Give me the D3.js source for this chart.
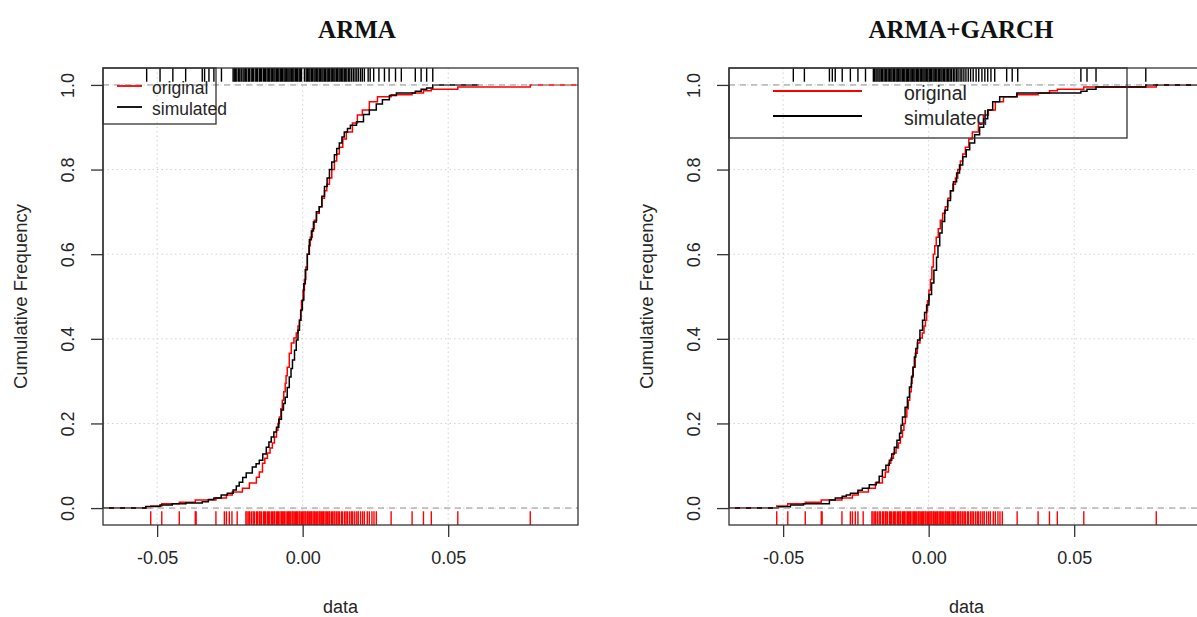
<!DOCTYPE html>
<html><head><meta charset="utf-8">
<script src="https://cdn.jsdelivr.net/npm/d3@7"></script>
<style>body{margin:0;background:#fff}svg{display:block}</style>
</head><body><svg id="c" width="1197" height="617"></svg>
<script>
// ---------- data ----------
const panelTitles = ["ARMA", "ARMA+GARCH"];
const xTickValues = [-0.05, 0, 0.05];
const xTickLabels = ["-0.05", "0.00", "0.05"];
const yTickValues = [0, 0.2, 0.4, 0.6, 0.8, 1.0];
const yTickLabels = ["0.0", "0.2", "0.4", "0.6", "0.8", "1.0"];
const legendLabels = ["original", "simulated"];
const xLabel = "data";
const yLabel = "Cumulative Frequency";

// ECDF of the original returns (same in both panels)
const originalKnots = [-0.0522,-0.0484,-0.0424,-0.0369,-0.0298,-0.0262,-0.0242,-0.0207,-0.0183,-0.0159,-0.0149,-0.0138,-0.0130,-0.0121,-0.0112,-0.0104,-0.0097,-0.0090,-0.0085,-0.0080,-0.0075,-0.0070,-0.0065,-0.0060,-0.0057,-0.0053,-0.0046,-0.0039,-0.0030,-0.0022,-0.0016,-0.0011,-0.0007,-0.0004,0.0001,0.0006,0.0011,0.0016,0.0021,0.0026,0.0033,0.0040,0.0048,0.0057,0.0066,0.0075,0.0083,0.0092,0.0100,0.0109,0.0117,0.0126,0.0138,0.0150,0.0171,0.0188,0.0205,0.0229,0.0257,0.0304,0.0376,0.0415,0.0442,0.0533,0.0782];
const originalFreq  = [0.005,0.010,0.014,0.019,0.024,0.031,0.038,0.047,0.059,0.073,0.085,0.106,0.118,0.130,0.142,0.154,0.168,0.184,0.200,0.215,0.235,0.255,0.275,0.295,0.313,0.333,0.366,0.390,0.402,0.414,0.430,0.444,0.467,0.490,0.515,0.540,0.570,0.600,0.620,0.640,0.660,0.680,0.697,0.712,0.732,0.750,0.765,0.780,0.800,0.820,0.837,0.853,0.872,0.889,0.910,0.929,0.941,0.960,0.972,0.977,0.981,0.986,0.990,0.995,1.000];

// ECDF of the ARMA simulation
const simArmaKnots = [-0.0539,-0.0490,-0.0448,-0.0401,-0.0345,-0.0324,-0.0305,-0.0280,-0.0259,-0.0239,-0.0228,-0.0218,-0.0206,-0.0194,-0.0173,-0.0160,-0.0149,-0.0137,-0.0125,-0.0116,-0.0108,-0.0099,-0.0090,-0.0082,-0.0073,-0.0066,-0.0060,-0.0053,-0.0046,-0.0040,-0.0035,-0.0028,-0.0022,-0.0016,-0.0011,-0.0006,-0.0001,0.0004,0.0009,0.0016,0.0023,0.0030,0.0037,0.0047,0.0057,0.0066,0.0075,0.0084,0.0092,0.0100,0.0109,0.0117,0.0126,0.0135,0.0143,0.0154,0.0164,0.0185,0.0209,0.0229,0.0253,0.0274,0.0298,0.0322,0.0387,0.0407,0.0426,0.0447];
const simArmaFreq  = [0.004,0.007,0.010,0.012,0.015,0.020,0.024,0.031,0.035,0.043,0.052,0.061,0.072,0.083,0.097,0.105,0.113,0.128,0.144,0.156,0.168,0.180,0.191,0.210,0.232,0.247,0.262,0.285,0.310,0.330,0.350,0.373,0.397,0.420,0.444,0.468,0.492,0.530,0.563,0.600,0.634,0.655,0.676,0.700,0.712,0.737,0.760,0.780,0.800,0.818,0.835,0.850,0.863,0.877,0.889,0.897,0.905,0.913,0.930,0.941,0.955,0.965,0.975,0.981,0.985,0.990,0.993,1.000];

// ECDF of the ARMA+GARCH simulation
const simGarchKnots = [-0.0517,-0.0475,-0.0430,-0.0341,-0.0321,-0.0297,-0.0283,-0.0269,-0.0243,-0.0228,-0.0204,-0.0180,-0.0170,-0.0159,-0.0147,-0.0135,-0.0127,-0.0118,-0.0109,-0.0100,-0.0095,-0.0090,-0.0081,-0.0073,-0.0066,-0.0059,-0.0054,-0.0049,-0.0044,-0.0038,-0.0030,-0.0021,-0.0014,-0.0007,0.0001,0.0010,0.0018,0.0027,0.0032,0.0038,0.0046,0.0055,0.0065,0.0075,0.0085,0.0096,0.0106,0.0117,0.0129,0.0141,0.0158,0.0175,0.0189,0.0203,0.0220,0.0244,0.0303,0.0523,0.0544,0.0575,0.0746];
const simGarchFreq  = [0.003,0.007,0.010,0.019,0.024,0.028,0.031,0.035,0.042,0.047,0.055,0.061,0.075,0.090,0.101,0.113,0.128,0.144,0.160,0.177,0.196,0.215,0.238,0.262,0.286,0.310,0.333,0.357,0.377,0.397,0.420,0.444,0.462,0.480,0.505,0.532,0.562,0.593,0.620,0.650,0.677,0.704,0.727,0.750,0.771,0.792,0.811,0.830,0.847,0.863,0.882,0.900,0.920,0.941,0.960,0.972,0.981,0.985,0.990,0.995,1.000];

// rug positions (data values)
const originalRug = [-0.0522,-0.0484,-0.0424,-0.0369,-0.0366,-0.0298,-0.0269,-0.0262,-0.0252,-0.0243,-0.0225,
  -0.0195,-0.0191,-0.0185,-0.0182,-0.0176,-0.0170,-0.0166,-0.0159,-0.0155,-0.0149,-0.0146,-0.0141,-0.0134,-0.0131,-0.0127,-0.0121,-0.0117,-0.0113,-0.0107,-0.0104,-0.0099,-0.0096,-0.0090,-0.0086,-0.0083,-0.0078,-0.0073,-0.0070,-0.0065,-0.0062,-0.0057,-0.0052,-0.0049,-0.0046,-0.0041,-0.0036,-0.0033,-0.0029,-0.0024,-0.0021,-0.0017,-0.0012,-0.0009,-0.0004,0.0000,0.0004,0.0008,0.0011,0.0016,0.0019,0.0024,0.0028,0.0031,0.0036,0.0040,0.0043,0.0048,0.0052,0.0057,0.0060,0.0064,0.0069,0.0072,0.0077,0.0081,0.0085,0.0090,0.0093,0.0099,0.0103,0.0108,0.0111,0.0117,0.0122,0.0126,0.0133,0.0137,0.0144,0.0149,0.0154,0.0161,0.0167,0.0172,0.0179,0.0186,0.0191,0.0199,0.0206,0.0212,0.0222,0.0229,0.0238,0.0245,0.0253,
  0.0304,0.0376,0.0415,0.0442,0.0533,0.0782];
const simArmaRug = [-0.0536,-0.0490,-0.0446,-0.0402,-0.0345,-0.0337,-0.0322,-0.0305,-0.0279,
  -0.0239,-0.0235,-0.0230,-0.0226,-0.0220,-0.0216,-0.0211,-0.0205,-0.0201,-0.0196,-0.0192,-0.0186,-0.0183,-0.0177,-0.0173,-0.0169,-0.0163,-0.0158,-0.0155,-0.0149,-0.0145,-0.0141,-0.0135,-0.0131,-0.0127,-0.0122,-0.0117,-0.0113,-0.0108,-0.0104,-0.0099,-0.0095,-0.0090,-0.0087,-0.0082,-0.0077,-0.0073,-0.0069,-0.0064,-0.0060,-0.0056,-0.0051,-0.0047,-0.0043,-0.0038,-0.0034,-0.0030,-0.0025,-0.0021,-0.0017,-0.0012,-0.0008,-0.0004,
  0.0006,0.0012,0.0016,0.0021,0.0025,0.0030,0.0034,0.0039,0.0043,0.0048,0.0052,0.0057,0.0061,0.0066,0.0070,0.0075,0.0079,0.0084,0.0088,0.0093,0.0098,0.0102,0.0107,0.0111,0.0116,0.0120,0.0125,0.0129,0.0134,0.0138,0.0143,0.0148,0.0152,0.0158,0.0162,0.0168,0.0174,0.0180,0.0186,0.0192,0.0199,0.0205,0.0212,0.0225,0.0232,0.0244,0.0262,0.0281,0.0297,0.0319,0.0339,
  0.0387,0.0407,0.0426,0.0447];
const simGarchRug = [-0.0465,-0.0427,-0.0341,-0.0331,-0.0321,-0.0297,-0.0269,-0.0243,-0.0217,
  -0.0190,-0.0186,-0.0181,-0.0177,-0.0171,-0.0167,-0.0162,-0.0158,-0.0153,-0.0148,-0.0144,-0.0139,-0.0134,-0.0130,-0.0126,-0.0121,-0.0117,-0.0112,-0.0108,-0.0104,-0.0099,-0.0095,-0.0090,-0.0086,-0.0082,-0.0077,-0.0073,-0.0069,-0.0064,-0.0060,-0.0055,-0.0051,-0.0047,-0.0042,-0.0038,-0.0034,-0.0029,-0.0025,-0.0020,-0.0016,-0.0012,-0.0007,-0.0003,0.0002,0.0006,0.0010,0.0015,0.0019,0.0024,0.0028,0.0033,0.0037,0.0042,0.0046,0.0051,0.0055,0.0060,0.0065,0.0069,0.0074,0.0079,0.0085,0.0090,0.0096,0.0101,0.0108,0.0114,0.0121,0.0128,0.0136,0.0144,0.0153,0.0163,0.0172,0.0183,0.0193,0.0203,0.0214,0.0227,
  0.0268,0.0287,0.0306,0.0523,0.0544,0.0575,0.0746];

// ---------- drawing ----------
(function () {
const svg = d3.select("#c");
const sans = "'Liberation Sans', Arial, sans-serif";
const serif = "'Liberation Serif', 'Times New Roman', serif";
const textCol = "#262626";

const panels = [
  { title: panelTitles[0], x0: 103, titleX: 357, rug: simArmaRug, simK: simArmaKnots, simF: simArmaFreq,
    legend: { x: 103, w: 113, h: 56, lineX0: 117, lineX1: 142, textX: 152, rows: [86, 107], fs: 17.5 } },
  { title: panelTitles[1], x0: 729, titleX: 961, rug: simGarchRug, simK: simGarchKnots, simF: simGarchFreq,
    legend: { x: 729, w: 398, h: 70, lineX0: 773, lineX1: 862, textX: 904, rows: [91, 116], fs: 19.5 } }
];
const W = 475, pTop = 68, pBottom = 525;
const xDomain = [-0.0686, 0.0946];
const yDomain = [-0.04, 1.04];

function stepPoints(knots, freq) {
  const lo = d3.min(knots), hi = d3.max(knots);
  const ext = 2 * 0.08 * (hi - lo);
  const pts = [[lo - ext, 0]];
  knots.forEach((k, i) => pts.push([k, freq[i]]));
  pts.push([hi + ext, freq[freq.length - 1]]);
  return pts;
}

panels.forEach((p, pi) => {
  const x = d3.scaleLinear().domain(xDomain).range([p.x0, p.x0 + W]);
  const y = d3.scaleLinear().domain(yDomain).range([pBottom, pTop]);
  const g = svg.append("g");
  const clipId = "clip" + pi;
  svg.append("clipPath").attr("id", clipId).append("rect")
    .attr("x", p.x0).attr("y", pTop).attr("width", W).attr("height", pBottom - pTop);
  const plot = g.append("g").attr("clip-path", `url(#${clipId})`);

  plot.selectAll(null).data(xTickValues).enter().append("line")
    .attr("x1", d => x(d)).attr("x2", d => x(d)).attr("y1", pTop).attr("y2", pBottom)
    .attr("stroke", "#d3d3d3").attr("stroke-dasharray", "1.5,3");
  plot.selectAll(null).data(yTickValues).enter().append("line")
    .attr("x1", p.x0).attr("x2", p.x0 + W).attr("y1", d => y(d)).attr("y2", d => y(d))
    .attr("stroke", "#d3d3d3").attr("stroke-dasharray", "1.5,3");

  const line = d3.line().x(d => x(d[0])).y(d => y(d[1])).curve(d3.curveStepAfter);
  const hlines = () => plot.selectAll(null).data([0, 1]).enter().append("line")
    .attr("x1", p.x0).attr("x2", p.x0 + W).attr("y1", d => y(d)).attr("y2", d => y(d))
    .attr("stroke", "#b3b3b3").attr("stroke-dasharray", "6,5");

  plot.append("path").datum(stepPoints(originalKnots, originalFreq)).attr("d", line)
    .attr("fill", "none").attr("stroke", "#ff0000").attr("stroke-width", 1.5);
  hlines();
  plot.append("path").datum(stepPoints(p.simK, p.simF)).attr("d", line)
    .attr("fill", "none").attr("stroke", "#000").attr("stroke-width", 1.5);
  hlines();

  const tick = 0.03 * (pBottom - pTop);
  plot.selectAll(null).data(originalRug).enter().append("line")
    .attr("x1", d => x(d)).attr("x2", d => x(d)).attr("y1", pBottom).attr("y2", pBottom - tick)
    .attr("stroke", "#ff0000").attr("stroke-width", 1.4);
  plot.selectAll(null).data(p.rug).enter().append("line")
    .attr("x1", d => x(d)).attr("x2", d => x(d)).attr("y1", pTop).attr("y2", pTop + tick)
    .attr("stroke", "#000").attr("stroke-width", 1.4);

  g.append("rect").attr("x", p.x0).attr("y", pTop).attr("width", W).attr("height", pBottom - pTop)
    .attr("fill", "none").attr("stroke", "#333").attr("stroke-width", 1.3);

  const xa = g.append("g").attr("transform", `translate(0,${pBottom})`)
    .call(d3.axisBottom(x).tickValues(xTickValues).tickFormat((d, i) => xTickLabels[i]).tickSize(12).tickPadding(14));
  const ya = g.append("g").attr("transform", `translate(${p.x0},0)`)
    .call(d3.axisLeft(y).tickValues(yTickValues).tickFormat((d, i) => yTickLabels[i]).tickSize(12));
  [xa, ya].forEach(a => {
    a.select(".domain").remove();
    a.selectAll(".tick line").attr("stroke", "#333").attr("stroke-width", 1.3);
    a.selectAll("text").attr("font-family", sans).attr("font-size", 18).attr("fill", textCol);
  });
  g.append("line").attr("x1", p.x0).attr("x2", p.x0).attr("y1", y(0)).attr("y2", y(1))
    .attr("stroke", "#333").attr("stroke-width", 1.3);
  ya.selectAll(".tick text")
    .attr("x", null).attr("dy", null).attr("text-anchor", "middle").attr("dominant-baseline", "central")
    .attr("transform", "translate(-35,0) rotate(-90)");

  g.append("text").attr("x", p.x0 + W / 2).attr("y", 613).attr("text-anchor", "middle")
    .attr("font-family", sans).attr("font-size", 18).attr("fill", textCol).text(xLabel);
  g.append("text").attr("transform", `translate(${p.x0 - 83},${(pTop + pBottom) / 2}) rotate(-90)`)
    .attr("text-anchor", "middle").attr("dominant-baseline", "central")
    .attr("font-family", sans).attr("font-size", 18.5).attr("fill", textCol).text(yLabel);

  g.append("text").attr("x", p.titleX).attr("y", 38).attr("text-anchor", "middle")
    .attr("font-family", serif).attr("font-weight", "bold").attr("font-size", 25).attr("fill", "#111")
    .text(p.title);

  const L = p.legend;
  g.append("rect").attr("x", L.x).attr("y", pTop).attr("width", L.w).attr("height", L.h)
    .attr("fill", "none").attr("stroke", "#333").attr("stroke-width", 1.3);
  const cols = ["#ff0000", "#000"];
  legendLabels.forEach((lab, i) => {
    g.append("line").attr("x1", L.lineX0).attr("x2", L.lineX1).attr("y1", L.rows[i]).attr("y2", L.rows[i])
      .attr("stroke", cols[i]).attr("stroke-width", 1.8);
    g.append("text").attr("x", L.textX).attr("y", L.rows[i] + 2).attr("dominant-baseline", "central")
      .attr("font-family", sans).attr("font-size", L.fs).attr("fill", textCol).text(lab);
  });
});
})();
</script></body></html>
